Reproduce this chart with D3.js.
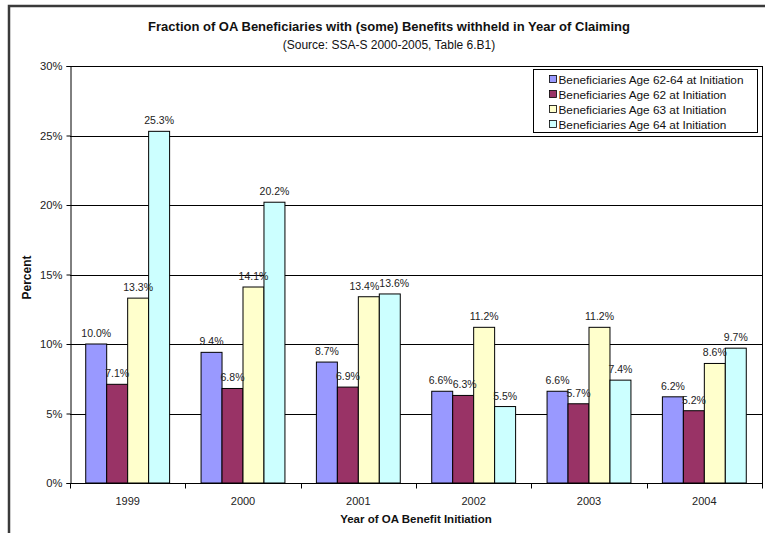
<!DOCTYPE html>
<html>
<head>
<meta charset="utf-8">
<script src="https://cdn.jsdelivr.net/npm/d3@7/dist/d3.min.js"></script>
<style>
  html, body { margin: 0; padding: 0; background: #fff; }
  svg { display: block; font-family: "Liberation Sans", Arial, sans-serif; }
</style>
</head>
<body>
<svg id="chart" width="765" height="533"></svg>
<script>
// Year of benefit initiation
const years = ["1999", "2000", "2001", "2002", "2003", "2004"];

// Share (%) of beneficiaries with some benefits withheld, by age at initiation
const age62to64 = [10.0, 9.4, 8.7, 6.6, 6.6, 6.2];
const age62 = [7.1, 6.8, 6.9, 6.3, 5.7, 5.2];
const age63 = [13.3, 14.1, 13.4, 11.2, 11.2, 8.6];
const age64 = [25.3, 20.2, 13.6, 5.5, 7.4, 9.7];

const seriesNames = [
  "Beneficiaries Age 62-64 at Initiation",
  "Beneficiaries Age 62 at Initiation",
  "Beneficiaries Age 63 at Initiation",
  "Beneficiaries Age 64 at Initiation"
];
const seriesColors = ["#9999FF", "#993366", "#FFFFCC", "#CCFFFF"];
const yTicks = [0, 5, 10, 15, 20, 25, 30];

const series = [age62to64, age62, age63, age64].map((vals, i) => ({
  name: seriesNames[i], color: seriesColors[i], values: vals
}));

const FONT = "Liberation Sans, Arial, sans-serif";
const svg = d3.select("#chart");

// outer chart frame
svg.append("path")
  .attr("d", "M9,540 L9,6 L780,6")
  .attr("fill", "none")
  .attr("stroke", "#3a3a3a")
  .attr("stroke-width", 2.5);

const plot = { left: 70, right: 762, top: 66, bottom: 483 };

const x = d3.scaleBand().domain(years).range([plot.left, plot.right]).paddingInner(0).paddingOuter(0);
const bw = x.bandwidth() / 5.5;
const xs = d3.scaleBand().domain(d3.range(4)).range([bw * 0.75, bw * 4.75]).padding(0);
const y = d3.scaleLinear().domain([0, 30]).range([plot.bottom, plot.top]);

// horizontal gridlines
svg.append("g").selectAll("line").data(yTicks.filter(t => t > 0)).join("line")
  .attr("x1", plot.left).attr("x2", plot.right)
  .attr("y1", d => Math.round(y(d)) + 0.5).attr("y2", d => Math.round(y(d)) + 0.5)
  .attr("stroke", "#000").attr("stroke-width", 1);

// plot area right border
svg.append("line")
  .attr("x1", plot.right + 0.5).attr("x2", plot.right + 0.5)
  .attr("y1", plot.top).attr("y2", plot.bottom)
  .attr("stroke", "#000");

// bars
const groups = svg.append("g").selectAll("g").data(series).join("g");
groups.selectAll("rect").data((s, si) => s.values.map((v, i) => ({ v, year: years[i], si, color: s.color })))
  .join("rect")
  .attr("x", d => x(d.year) + xs(d.si))
  .attr("width", xs.bandwidth())
  .attr("y", d => y(d.v))
  .attr("height", d => y(0) - y(d.v))
  .attr("fill", d => d.color)
  .attr("stroke", "#000")
  .attr("stroke-width", 1);

// value labels, centred over each bar
const labelData = [];
series.forEach((s, si) => s.values.forEach((v, i) => labelData.push({ v, si, year: years[i], gi: i })));
const labels = svg.append("g").selectAll("text").data(labelData).join("text")
  .attr("x", d => x(d.year) + xs(d.si) + xs.bandwidth() / 2)
  .attr("y", d => y(d.v) - 7)
  .attr("text-anchor", "middle")
  .attr("font-size", 10.5)
  .attr("fill", "#222")
  .text(d => d.v.toFixed(1) + "%");

// spread apart neighbouring labels in a group that sit at nearly the same height
labels.each(function (d) {
  d.cx = +this.getAttribute("x");
  d.cy = +this.getAttribute("y");
  d.w = this.getComputedTextLength();
});
years.forEach((yr, gi) => {
  const inGroup = labelData.filter(d => d.gi === gi).sort((a, b) => a.si - b.si);
  for (let k = 1; k < inGroup.length; k++) {
    const a = inGroup[k - 1], b = inGroup[k];
    if (Math.abs(a.cy - b.cy) < 6) {
      const overlap = (a.cx + a.w / 2) - (b.cx - b.w / 2);
      if (overlap > 0) { a.cx -= overlap / 2; b.cx += overlap / 2; }
    }
  }
});
labels.attr("x", d => d.cx);

// y axis
const yAxis = d3.axisLeft(y).tickValues(yTicks).tickFormat(d => d + "%").tickSize(4).tickPadding(4);
svg.append("g")
  .attr("transform", `translate(${plot.left + 0.5},0)`)
  .call(yAxis)
  .call(g => g.select(".domain").attr("stroke", "#000"))
  .call(g => g.selectAll(".tick line").attr("stroke", "#000"))
  .call(g => g.selectAll("text").attr("font-size", 11.2).attr("fill", "#222").attr("font-family", FONT));

// x axis
const xAxis = d3.axisBottom(x).tickSize(0).tickPadding(12);
const xg = svg.append("g")
  .attr("transform", `translate(0,${Math.round(y(0)) + 0.5})`)
  .call(xAxis)
  .call(g => g.select(".domain").attr("stroke", "#000").attr("d", `M${plot.left},0H${plot.right + 1}`))
  .call(g => g.selectAll("text").attr("font-size", 11).attr("fill", "#222").attr("font-family", FONT).attr("dy", "0.9em"));
// category boundary ticks
xg.selectAll(".bound").data(years.concat(["end"])).join("line")
  .attr("x1", (d, i) => Math.round(plot.left + i * x.bandwidth()) + 0.5)
  .attr("x2", (d, i) => Math.round(plot.left + i * x.bandwidth()) + 0.5)
  .attr("y1", 0).attr("y2", 5)
  .attr("stroke", "#000");

// titles
svg.append("text")
  .attr("x", 389).attr("y", 31)
  .attr("text-anchor", "middle")
  .attr("font-size", 13).attr("font-weight", "bold").attr("fill", "#111")
  .text("Fraction of OA Beneficiaries with (some) Benefits withheld in Year of Claiming");
svg.append("text")
  .attr("x", 389).attr("y", 49)
  .attr("text-anchor", "middle")
  .attr("font-size", 12).attr("fill", "#111")
  .text("(Source: SSA-S 2000-2005, Table 6.B1)");

svg.append("text")
  .attr("x", (plot.left + plot.right) / 2).attr("y", 523)
  .attr("text-anchor", "middle")
  .attr("font-size", 11.5).attr("font-weight", "bold").attr("fill", "#111")
  .text("Year of OA Benefit Initiation");

svg.append("text")
  .attr("transform", `translate(31,${(plot.top + plot.bottom) / 2 + 3}) rotate(-90)`)
  .attr("text-anchor", "middle")
  .attr("font-size", 12).attr("font-weight", "bold").attr("fill", "#111")
  .text("Percent");

// legend
const legend = svg.append("g").attr("transform", "translate(533.5,69.5)");
legend.append("rect")
  .attr("width", 224).attr("height", 63)
  .attr("fill", "#fff").attr("stroke", "#000");
const item = legend.selectAll("g").data(series).join("g")
  .attr("transform", (d, i) => `translate(16,${10 + i * 15})`);
item.append("rect")
  .attr("x", 0).attr("y", -4).attr("width", 7).attr("height", 7)
  .attr("fill", d => d.color).attr("stroke", "#000").attr("stroke-width", 0.8);
item.append("text")
  .attr("x", 9).attr("y", 4)
  .attr("font-size", 11.8).attr("fill", "#111")
  .text(d => d.name);
</script>
</body>
</html>
